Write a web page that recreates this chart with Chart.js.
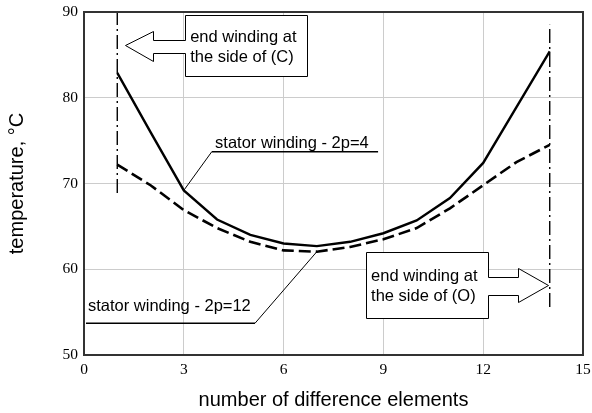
<!DOCTYPE html>
<html>
<head>
<meta charset="utf-8">
<title>Temperature of difference elements</title>
<script src="https://cdn.jsdelivr.net/npm/chart.js@4/dist/chart.umd.min.js"></script>
<style>
    html, body { margin: 0; padding: 0; background: #ffffff; }
    #chart { display: block; }
</style>
</head>
<body>
<canvas id="chart" width="592" height="413"></canvas>
<script>
    // Number of the difference element (x axis).
    var elements = [1, 2, 3, 4, 5, 6, 7, 8, 9, 10, 11, 12, 13, 14];

    // Temperature, degrees C, stator winding 2p=4 (solid line).
    var statorP4 = [82.9, 76.0, 69.2, 65.8, 64.0, 63.0, 62.7, 63.2, 64.2, 65.7, 68.3, 72.4, 78.9, 85.4];

    // Temperature, degrees C, stator winding 2p=12 (dashed line).
    var statorP12 = [72.2, 69.8, 66.9, 64.8, 63.2, 62.2, 62.05, 62.6, 63.5, 64.8, 67.1, 69.8, 72.5, 74.5];

    // End winding markers (dash-dot verticals): element, lower and upper temperature.
    var endWindingC = [1, 68.9, 90];
    var endWindingO = [14, 55.6, 88.5];

    // Tick values.
    var xTicks = [0, 3, 6, 9, 12, 15];
    var yTicks = [50, 60, 70, 80, 90];

    /**
     * Callouts, in data coordinates of the chart.
     */
    var callouts = [
        {
            lines: ['end winding at', 'the side of (C)'],
            dir: 'left',
            left: 3.04, right: 6.69, top: 89.62, bottom: 82.5,
            shaftTop: 86.77, shaftBottom: 85.22,
            headX: 2.08, headTop: 87.75, headBottom: 84.32,
            tipX: 1.23, tipY: 86.12
        },
        {
            lines: ['end winding at', 'the side of (O)'],
            dir: 'right',
            left: 8.48, right: 12.13, top: 62.05, bottom: 54.35,
            shaftTop: 59.13, shaftBottom: 57.0,
            headX: 13.05, headTop: 60.11, headBottom: 56.15,
            tipX: 13.96, tipY: 58.16
        }
    ];

    /**
     * Underlined labels with a leader line to the curve.
     */
    var labels = [
        { text: 'stator winding - 2p=4', from: [3, 69.2], knee: [3.84, 73.7], end: [8.84, 73.7], textX: 3.94, textY: 74.1 },
        { text: 'stator winding - 2p=12', from: [7, 62.05], knee: [5.14, 53.7], end: [0.06, 53.7], textX: 0.12, textY: 55.17 }
    ];

    var SANS = '"Liberation Sans", Arial, sans-serif';
    var SERIF = '"Liberation Serif", "Times New Roman", serif';

    function toPoints(xs, ys) {
        return xs.map(function (x, i) { return { x: x, y: ys[i] }; });
    }

    function fixTicks(values) {
        return function (scale) {
            scale.ticks = values.map(function (v) { return { value: v }; });
        };
    }

    /**
     * Draws the frame, the callouts and the labels on top of the curves.
     */
    var annotations = {
        id: 'annotations',
        afterDatasetsDraw: function (chart) {
            var ctx = chart.ctx, area = chart.chartArea;
            var sx = function (v) { return chart.scales.x.getPixelForValue(v); };
            var sy = function (v) { return chart.scales.y.getPixelForValue(v); };

            ctx.save();

            // Frame.
            ctx.strokeStyle = '#333333';
            ctx.lineWidth = 2;
            ctx.strokeRect(area.left, area.top, area.right - area.left, area.bottom - area.top);

            // Callouts.
            callouts.forEach(function (c) {
                var p;
                if (c.dir === 'left') {
                    p = [[c.left, c.top], [c.right, c.top], [c.right, c.bottom], [c.left, c.bottom],
                        [c.left, c.shaftBottom], [c.headX, c.shaftBottom], [c.headX, c.headBottom],
                        [c.tipX, c.tipY], [c.headX, c.headTop], [c.headX, c.shaftTop], [c.left, c.shaftTop]];
                } else {
                    p = [[c.left, c.top], [c.right, c.top], [c.right, c.shaftTop], [c.headX, c.shaftTop],
                        [c.headX, c.headTop], [c.tipX, c.tipY], [c.headX, c.headBottom],
                        [c.headX, c.shaftBottom], [c.right, c.shaftBottom], [c.right, c.bottom], [c.left, c.bottom]];
                }
                ctx.beginPath();
                p.forEach(function (pt, i) {
                    var x = Math.round(sx(pt[0])) + 0.5, y = Math.round(sy(pt[1])) + 0.5;
                    if (i === 0) { ctx.moveTo(x, y); } else { ctx.lineTo(x, y); }
                });
                ctx.closePath();
                ctx.fillStyle = '#ffffff';
                ctx.fill();
                ctx.strokeStyle = '#000000';
                ctx.lineWidth = 1;
                ctx.stroke();

                var mid = (sy(c.top) + sy(c.bottom)) / 2;
                ctx.fillStyle = '#000000';
                ctx.font = '16.5px ' + SANS;
                ctx.textBaseline = 'alphabetic';
                ctx.textAlign = 'left';
                ctx.fillText(c.lines[0], sx(c.left) + 5, mid - 4);
                ctx.fillText(c.lines[1], sx(c.left) + 5, mid + 16);
            });

            // Labels with leader lines.
            labels.forEach(function (l) {
                ctx.strokeStyle = '#000000';
                ctx.lineWidth = 1;
                ctx.beginPath();
                ctx.moveTo(sx(l.from[0]), sy(l.from[1]));
                ctx.lineTo(sx(l.knee[0]), sy(l.knee[1]));
                ctx.stroke();

                ctx.lineWidth = 1.5;
                ctx.beginPath();
                ctx.moveTo(sx(l.knee[0]), sy(l.knee[1]));
                ctx.lineTo(sx(l.end[0]), sy(l.end[1]));
                ctx.stroke();

                ctx.fillStyle = '#000000';
                ctx.font = '16.5px ' + SANS;
                ctx.textAlign = 'left';
                ctx.textBaseline = 'alphabetic';
                ctx.fillText(l.text, sx(l.textX), sy(l.textY));
            });

            ctx.restore();
        }
    };

    var lineStyle = { borderColor: '#000000', pointRadius: 0, tension: 0, fill: false };

    new Chart(document.getElementById('chart'), {
        type: 'line',
        data: {
            datasets: [
                Object.assign({ label: 'stator winding - 2p=4', data: toPoints(elements, statorP4), borderWidth: 2.4 }, lineStyle),
                Object.assign({ label: 'stator winding - 2p=12', data: toPoints(elements, statorP12), borderWidth: 2.6, borderDash: [12, 5] }, lineStyle),
                Object.assign({ label: 'end winding (C)', data: [{ x: endWindingC[0], y: endWindingC[1] }, { x: endWindingC[0], y: endWindingC[2] }], borderWidth: 1.4, borderDash: [14, 4, 2, 4] }, lineStyle),
                Object.assign({ label: 'end winding (O)', data: [{ x: endWindingO[0], y: endWindingO[1] }, { x: endWindingO[0], y: endWindingO[2] }], borderWidth: 1.4, borderDash: [14, 4, 2, 4] }, lineStyle)
            ]
        },
        options: {
            responsive: false,
            animation: false,
            devicePixelRatio: 1,
            layout: { padding: { top: 12, right: 9, left: 0, bottom: 0 } },
            plugins: { legend: { display: false }, tooltip: { enabled: false } },
            scales: {
                x: {
                    type: 'linear',
                    min: 0,
                    max: 15,
                    afterBuildTicks: fixTicks(xTicks),
                    afterFit: function (scale) {
                        scale.height = 58;
                        scale.paddingLeft = 0;
                        scale.paddingRight = 0;
                    },
                    grid: { color: '#cccccc', lineWidth: 1, drawTicks: false },
                    border: { display: false },
                    ticks: { color: '#000000', padding: 6, font: { family: SERIF, size: 15.5 } },
                    title: { display: true, text: 'number of difference elements', color: '#000000', padding: { top: 0, bottom: 1 }, font: { family: SANS, size: 20 } }
                },
                y: {
                    type: 'linear',
                    min: 50,
                    max: 90,
                    afterBuildTicks: fixTicks(yTicks),
                    afterFit: function (scale) {
                        scale.width = 84;
                        scale.paddingTop = 0;
                        scale.paddingBottom = 0;
                    },
                    grid: { color: '#cccccc', lineWidth: 1, drawTicks: false },
                    border: { display: false },
                    ticks: { color: '#000000', padding: 6, font: { family: SERIF, size: 15.5 } },
                    title: { display: true, text: 'temperature, °C', color: '#000000', padding: { top: 5, bottom: 0 }, font: { family: SANS, size: 20 } }
                }
            }
        },
        plugins: [annotations]
    });
</script>
</body>
</html>
